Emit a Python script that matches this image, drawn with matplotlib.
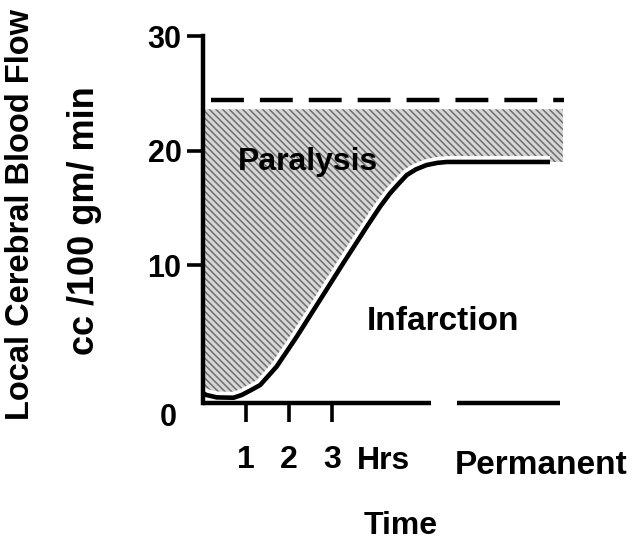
import matplotlib
matplotlib.use('Agg')
import matplotlib.pyplot as plt
import matplotlib.patheffects as pe

plt.rcParams['font.family'] = ['Liberation Sans', 'DejaVu Sans']
plt.rcParams['font.weight'] = 'bold'
plt.rcParams['hatch.linewidth'] = 1.1

# flow curve (hours, cc/100 gm/min)
curve_hours = [0.0, 0.08, 0.32, 0.71, 0.9, 1.09, 1.33, 1.71, 2.18, 2.72, 3.26, 3.81,
               4.12, 4.35, 4.55, 4.74, 4.95, 5.2, 5.45, 5.67, 6.14, 8.07]
curve_flow = [-1.2, -1.35, -1.56, -1.59, -1.35, -0.98, -0.48, 1.12, 3.74, 6.94, 10.15,
              13.35, 15.1, 16.26, 17.1, 17.86, 18.35, 18.73, 18.92, 19.0, 19.0, 19.0]

# paralysis band: from the curve up to this level
band_top = 23.6
band_end = 8.37
normal_flow = 24.4          # dashed line
normal_span = [0.19, 8.4]

# broken time axis
time_ticks = [1, 2, 3]
time_labels = ['1', '2', '3']
axis_segments = [[0.0, 5.3], [5.9, 8.3]]
y_ticks = [10, 20, 30]

fig = plt.figure(figsize=(6.35, 5.43), dpi=100)
ax = fig.add_axes([203 / 635, 1 - 403 / 543, 380 / 635, 367 / 543])
ymin = -2.05
ax.set_xlim(0, 380 / 43)
ax.set_ylim(ymin, 30)

# hatched paralysis zone
band_x = curve_hours + [band_end]
band_low = curve_flow + [curve_flow[-1]]
ax.fill_between(band_x, band_low, band_top, facecolor='#d6d6d6',
                edgecolor='#6e6e6e', hatch='\\\\\\\\\\', linewidth=0)

ax.plot(normal_span, [normal_flow, normal_flow], color='black', lw=3.2,
        dashes=(7.4, 3.6), solid_capstyle='butt')

ax.plot(curve_hours, curve_flow, color='black', lw=3.3, solid_capstyle='butt',
        solid_joinstyle='round',
        path_effects=[pe.Stroke(linewidth=8.5, foreground='white'), pe.Normal()])

for seg in axis_segments:
    ax.plot(seg, [ymin, ymin], color='black', lw=3.2, clip_on=False,
            solid_capstyle='butt')

for s in ['top', 'right', 'bottom']:
    ax.spines[s].set_visible(False)
ax.spines['left'].set_linewidth(3.2)

ax.set_yticks(y_ticks)
ax.set_yticklabels([str(v) for v in y_ticks])
ax.set_xticks(time_ticks)
ax.set_xticklabels(time_labels)
ax.tick_params(axis='y', length=11.5, width=2.6, pad=4, labelsize=22)
ax.tick_params(axis='x', length=14, width=2.6, pad=16, labelsize=23)
for lab in ax.get_xticklabels() + ax.get_yticklabels():
    lab.set_fontweight('bold')

ax.text(3.58, -7.1, 'Hrs', fontsize=23, fontweight='bold', ha='left', va='center',
        clip_on=False)
ax.text(5.86, -7.5, 'Permanent', fontsize=24, fontweight='bold', ha='left',
        va='center', clip_on=False)
ax.text(0.81, 18.3, 'Paralysis', fontsize=23, fontweight='bold', ha='left',
        va='baseline')
ax.text(3.81, 4.3, 'Infarction', fontsize=24, fontweight='bold', ha='left',
        va='baseline')

fig.text(168 / 635, 1 - 418 / 543, '0', fontsize=22, fontweight='bold',
         ha='center', va='center')
fig.text(401 / 635, 1 - 526 / 543, 'Time', fontsize=23, fontweight='bold',
         ha='center', va='center')
fig.text(21 / 635, 1 - 215 / 543, 'Local Cerebral Blood Flow', fontsize=23.5,
         fontweight='bold', rotation=90, ha='center', va='center')
fig.text(84 / 635, 1 - 221 / 543, 'cc /100 gm/ min', fontsize=26,
         fontweight='bold', rotation=90, ha='center', va='center')

fig.savefig('out.png', dpi=100)
